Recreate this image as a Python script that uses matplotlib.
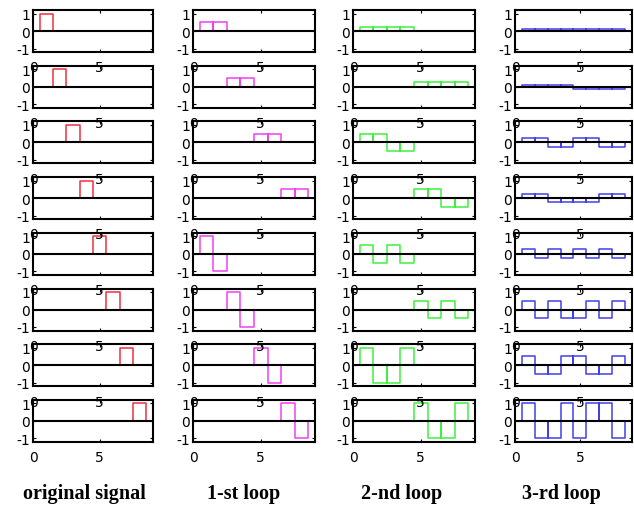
import matplotlib.pyplot as plt

# basis signals, 8 samples each, one list per subplot row
original = [
    [1, 0, 0, 0, 0, 0, 0, 0],
    [0, 1, 0, 0, 0, 0, 0, 0],
    [0, 0, 1, 0, 0, 0, 0, 0],
    [0, 0, 0, 1, 0, 0, 0, 0],
    [0, 0, 0, 0, 1, 0, 0, 0],
    [0, 0, 0, 0, 0, 1, 0, 0],
    [0, 0, 0, 0, 0, 0, 1, 0],
    [0, 0, 0, 0, 0, 0, 0, 1],
]
loop1 = [
    [0.5, 0.5, 0, 0, 0, 0, 0, 0],
    [0, 0, 0.5, 0.5, 0, 0, 0, 0],
    [0, 0, 0, 0, 0.5, 0.5, 0, 0],
    [0, 0, 0, 0, 0, 0, 0.5, 0.5],
    [1, -1, 0, 0, 0, 0, 0, 0],
    [0, 0, 1, -1, 0, 0, 0, 0],
    [0, 0, 0, 0, 1, -1, 0, 0],
    [0, 0, 0, 0, 0, 0, 1, -1],
]
loop2 = [
    [0.25, 0.25, 0.25, 0.25, 0, 0, 0, 0],
    [0, 0, 0, 0, 0.25, 0.25, 0.25, 0.25],
    [0.5, 0.5, -0.5, -0.5, 0, 0, 0, 0],
    [0, 0, 0, 0, 0.5, 0.5, -0.5, -0.5],
    [0.5, -0.5, 0.5, -0.5, 0, 0, 0, 0],
    [0, 0, 0, 0, 0.5, -0.5, 0.5, -0.5],
    [1, -1, -1, 1, 0, 0, 0, 0],
    [0, 0, 0, 0, 1, -1, -1, 1],
]
loop3 = [
    [0.125, 0.125, 0.125, 0.125, 0.125, 0.125, 0.125, 0.125],
    [0.125, 0.125, 0.125, 0.125, -0.125, -0.125, -0.125, -0.125],
    [0.25, 0.25, -0.25, -0.25, 0.25, 0.25, -0.25, -0.25],
    [0.25, 0.25, -0.25, -0.25, -0.25, -0.25, 0.25, 0.25],
    [0.25, -0.25, 0.25, -0.25, 0.25, -0.25, 0.25, -0.25],
    [0.5, -0.5, 0.5, -0.5, -0.5, 0.5, -0.5, 0.5],
    [0.5, -0.5, -0.5, 0.5, 0.5, -0.5, -0.5, 0.5],
    [1, -1, -1, 1, -1, 1, 1, -1],
]
columns = [original, loop1, loop2, loop3]
titles = ['original signal', '1-st loop', '2-nd loop', '3-rd loop']
colors = ['#f03040', '#f040f0', '#40f040', '#4040e8']

W, H = 634, 506
fig = plt.figure(figsize=(W / 100, H / 100), dpi=100)

col_left = [33, 193, 353, 515]
col_right = [153, 315, 475, 632]
title_x = [84, 244, 402, 561]
row_h = 42


def pulses(vals):
    xs, ys = [], []
    for i, v in enumerate(vals, start=1):
        xs += [i - 0.5, i - 0.5, i + 0.5, i + 0.5]
        ys += [0, v, v, 0]
    return xs, ys


for c, data in enumerate(columns):
    for r, vals in enumerate(data):
        top = 11 + 55.7 * r
        ax = fig.add_axes([col_left[c] / W, 1 - (top + row_h) / H,
                           (col_right[c] - col_left[c]) / W, row_h / H])
        ax.set_zorder(20 - r)
        ax.patch.set_alpha(0)
        xs, ys = pulses(vals)
        ax.plot(xs, ys, color=colors[c], lw=1.1)
        ax.axhline(0, color='black', lw=1.5, zorder=3)
        ax.set_xlim(0, 9)
        ax.set_ylim(-1.2, 1.2)
        ax.set_xticks([0, 5])
        ax.set_xticklabels(['0', '5'])
        ax.set_yticks([-1, 0, 1])
        ax.set_yticklabels(['-1', '0', '1'])
        ax.tick_params(direction='in', top=True, right=True, length=2,
                       width=0.8, labelsize=10)
        ax.tick_params(axis='x', pad=6)
        ax.tick_params(axis='y', pad=2)
        for s in ax.spines.values():
            s.set_linewidth(1.5)

for c, t in enumerate(titles):
    fig.text(title_x[c] / W, 1 - 494 / H, t, ha='center', va='center',
             family='Liberation Serif', weight='bold', fontsize=14.5)

fig.savefig('out.png', dpi=100)
